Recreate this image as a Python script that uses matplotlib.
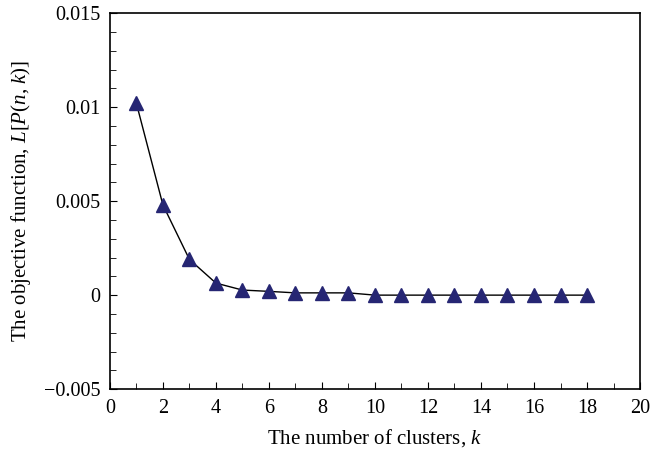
import matplotlib
matplotlib.use("Agg")
import matplotlib.pyplot as plt
from matplotlib.ticker import MultipleLocator, FuncFormatter

k = list(range(1, 19))
L = [0.0102, 0.0048, 0.0019, 0.00064, 0.00027, 0.0002, 0.00012, 0.00012, 0.00012,
     0.0, 0.0, 0.0, 0.0, 0.0, 0.0, 0.0, 0.0, 0.0]

plt.rcParams['font.family'] = ['Liberation Serif']
plt.rcParams['mathtext.fontset'] = 'custom'
plt.rcParams['mathtext.rm'] = 'Liberation Serif'
plt.rcParams['mathtext.it'] = 'Liberation Serif:italic'

fig = plt.figure(figsize=(6.66, 4.53), dpi=100)
ax = fig.add_axes([0.165, 0.141, 0.796, 0.830])
ax.plot(k, L, color='black', lw=1.0, marker='^', markersize=9.5,
        markerfacecolor='#262673', markeredgecolor='#262673')
ax.set_xlim(0, 20)
ax.set_ylim(-0.005, 0.015)
ax.xaxis.set_major_locator(MultipleLocator(2))
ax.xaxis.set_minor_locator(MultipleLocator(1))
ax.yaxis.set_major_locator(MultipleLocator(0.005))
ax.yaxis.set_minor_locator(MultipleLocator(0.001))

def yfmt(v, pos):
    if abs(v) < 1e-12:
        return '0'
    s = ('%.3f' % v).rstrip('0')
    return s.replace('-', '\u2212')
ax.yaxis.set_major_formatter(FuncFormatter(yfmt))
ax.tick_params(which='both', direction='in', top=False, right=False, labelsize=14.5)
ax.tick_params(axis='y', which='major', length=5, pad=7)
ax.tick_params(axis='x', which='major', length=5, pad=7)
ax.tick_params(which='minor', length=4)
for s in ax.spines.values():
    s.set_linewidth(1.2)
ax.set_xlabel('The number of clusters, $k$', fontsize=15, labelpad=7)
ax.set_ylabel('The objective function, $L$[$P$($n$, $k$)]', fontsize=15, labelpad=8)
fig.savefig('out.png', dpi=100)
